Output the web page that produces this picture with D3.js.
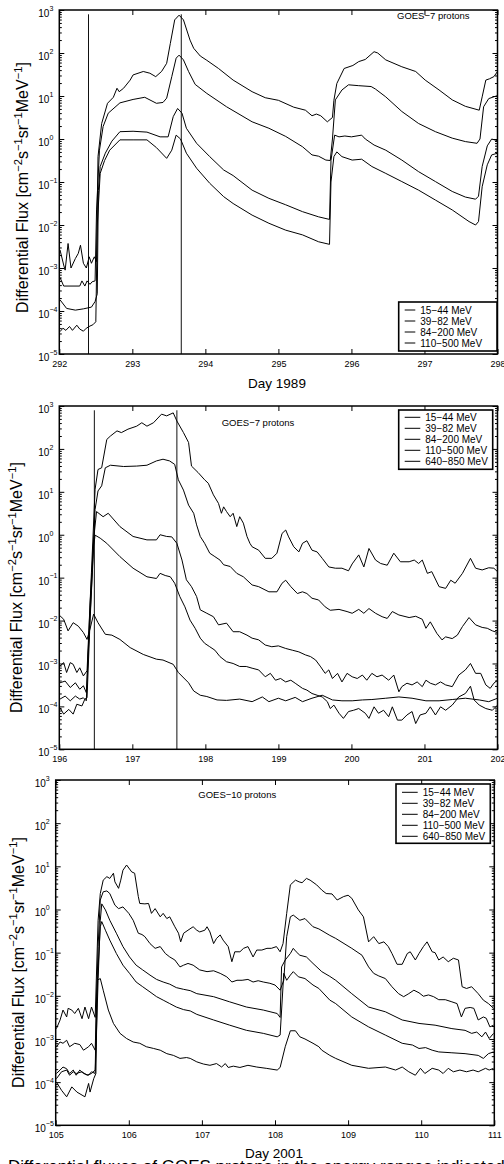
<!DOCTYPE html>
<html><head><meta charset="utf-8">
<script src="https://cdn.jsdelivr.net/npm/d3@7"></script>
<style>
body{margin:0;background:#fff}
svg{display:block}
text{font-family:"Liberation Sans",Arial,Helvetica,sans-serif;fill:#000}
</style></head><body>
<svg id="c" width="504" height="1164"></svg>
<script>
// ---------------- DATA ----------------
const labels4 = ["15\u221244 MeV","39\u221282 MeV","84\u2212200 MeV","110\u2212500 MeV"];
const labels5 = ["15\u221244 MeV","39\u221282 MeV","84\u2212200 MeV","110\u2212500 MeV","640\u2212850 MeV"];
const p1Ticks = [292,293,294,295,296,297,298];
const p2Ticks = [196,197,198,199,200,201,202];
const p3Ticks = [105,106,107,108,109,110,111];
const yExps = [-5,-4,-3,-2,-1,0,1,2,3];
const p1Events = [292.4, 293.67];
const p2Events = [196.48, 197.61];
const eventTopExp = 2.9;

// series: [day, log10 flux]
const p1_15_44 = [[292.01,-2.58],[292.06,-2.93],[292.08,-3.05],[292.12,-2.43],[292.16,-3.0],[292.22,-2.78],[292.26,-2.66],[292.29,-2.47],[292.33,-2.89],[292.37,-3.0],[292.41,-2.74],[292.44,-2.89],[292.48,-2.74],[292.51,-2.85],[292.53,-0.41],[292.58,0.36],[292.66,0.83],[292.74,0.97],[292.79,1.18],[292.82,1.1],[292.88,1.18],[292.97,1.37],[293.01,1.49],[293.15,1.57],[293.24,1.53],[293.32,1.45],[293.4,1.57],[293.47,1.76],[293.52,2.22],[293.58,2.77],[293.64,2.88],[293.7,2.77],[293.79,2.3],[293.84,2.11],[293.93,1.93],[294.02,1.83],[294.18,1.64],[294.38,1.37],[294.64,1.1],[294.82,0.96],[295.0,0.9],[295.21,0.74],[295.37,0.67],[295.46,0.54],[295.52,0.58],[295.58,0.54],[295.67,0.4],[295.74,0.5],[295.76,0.9],[295.8,1.29],[295.9,1.64],[296.02,1.71],[296.1,1.8],[296.19,1.85],[296.31,2.03],[296.36,2.0],[296.47,1.84],[296.69,1.68],[296.88,1.57],[297.01,1.37],[297.2,1.14],[297.38,0.91],[297.56,0.76],[297.75,0.67],[297.79,0.98],[297.84,1.37],[297.89,1.4],[297.95,1.45],[298.0,1.57]];
const p1_39_82 = [[292.01,-3.22],[292.06,-3.42],[292.28,-3.42],[292.31,-3.3],[292.35,-3.42],[292.38,-3.3],[292.42,-3.38],[292.45,-3.32],[292.49,-3.3],[292.51,-1.65],[292.55,-0.26],[292.6,0.29],[292.67,0.6],[292.83,0.84],[293.01,0.92],[293.17,0.97],[293.33,0.83],[293.42,0.85],[293.47,0.95],[293.54,1.45],[293.6,1.88],[293.64,1.95],[293.7,1.84],[293.77,1.57],[293.86,1.27],[294.02,1.06],[294.29,0.75],[294.64,0.4],[294.87,0.25],[295.1,0.06],[295.33,-0.18],[295.46,-0.37],[295.55,-0.4],[295.65,-0.49],[295.71,-0.5],[295.74,0.0],[295.78,0.91],[295.87,1.14],[295.96,1.26],[296.1,1.24],[296.27,1.22],[296.33,1.16],[296.47,0.98],[296.69,0.64],[296.92,0.36],[297.15,0.17],[297.38,0.02],[297.56,-0.06],[297.72,-0.1],[297.76,0.0],[297.81,0.75],[297.88,0.94],[298.0,1.01]];
const p1_84_200 = [[292.01,-3.74],[292.1,-3.94],[292.22,-3.98],[292.33,-3.95],[292.44,-3.91],[292.49,-3.78],[292.52,-3.6],[292.535,-1.2],[292.56,-0.64],[292.63,-0.33],[292.72,-0.05],[292.83,0.17],[293.01,0.18],[293.2,0.16],[293.38,0.05],[293.49,0.05],[293.56,0.52],[293.62,0.71],[293.68,0.6],[293.74,0.25],[293.88,-0.1],[294.06,-0.41],[294.25,-0.72],[294.38,-0.85],[294.64,-1.19],[294.87,-1.38],[295.1,-1.53],[295.33,-1.69],[295.55,-1.81],[295.7,-1.87],[295.72,-0.5],[295.77,0.09],[295.83,0.05],[295.91,0.07],[296.0,0.05],[296.14,0.09],[296.19,0.0],[296.31,-0.14],[296.47,-0.26],[296.69,-0.49],[296.92,-0.76],[297.15,-0.99],[297.38,-1.22],[297.56,-1.35],[297.7,-1.4],[297.74,-1.33],[297.79,-0.64],[297.86,-0.16],[297.92,0.0],[298.0,-0.04]];
const p1_110_500 = [[292.01,-4.48],[292.05,-4.4],[292.09,-4.45],[292.14,-4.36],[292.18,-4.45],[292.24,-4.33],[292.28,-4.42],[292.33,-4.47],[292.37,-4.4],[292.42,-4.35],[292.46,-4.32],[292.5,-4.25],[292.52,-2.0],[292.56,-0.8],[292.62,-0.5],[292.69,-0.26],[292.83,-0.02],[293.01,-0.02],[293.2,-0.02],[293.33,-0.2],[293.47,-0.45],[293.54,-0.26],[293.6,0.09],[293.66,0.0],[293.74,-0.33],[293.88,-0.68],[294.06,-1.03],[294.25,-1.34],[294.38,-1.5],[294.64,-1.77],[294.87,-1.96],[295.1,-2.12],[295.33,-2.23],[295.55,-2.39],[295.7,-2.45],[295.72,-1.0],[295.76,-0.41],[295.8,-0.3],[295.87,-0.41],[296.01,-0.49],[296.14,-0.47],[296.28,-0.64],[296.47,-0.8],[296.69,-0.99],[296.92,-1.19],[297.15,-1.42],[297.38,-1.65],[297.61,-1.92],[297.7,-2.0],[297.74,-1.92],[297.79,-1.11],[297.86,-0.6],[297.92,-0.37],[298.0,-0.33]];

const p2_15_44 = [[196.01,-3.06],[196.06,-2.98],[196.1,-3.21],[196.15,-2.98],[196.19,-3.02],[196.24,-3.21],[196.28,-3.1],[196.33,-3.29],[196.38,-3.17],[196.44,-0.88],[196.49,1.06],[196.53,1.52],[196.58,1.56],[196.65,2.22],[196.7,2.3],[196.79,2.42],[196.85,2.38],[196.94,2.46],[197.06,2.53],[197.13,2.61],[197.2,2.53],[197.29,2.61],[197.4,2.81],[197.47,2.77],[197.56,2.84],[197.61,2.65],[197.7,2.38],[197.77,2.15],[197.81,1.6],[197.9,1.45],[197.99,1.28],[198.04,1.2],[198.11,0.93],[198.18,0.73],[198.22,0.5],[198.25,0.65],[198.29,0.54],[198.34,0.42],[198.38,0.5],[198.43,0.19],[198.47,0.42],[198.52,0.27],[198.57,-0.04],[198.61,-0.2],[198.64,-0.28],[198.73,-0.36],[198.82,-0.55],[198.91,-0.55],[198.98,-0.43],[199.05,0.03],[199.1,0.11],[199.14,-0.05],[199.21,-0.28],[199.28,-0.4],[199.33,-0.2],[199.39,-0.14],[199.46,-0.36],[199.53,-0.4],[199.6,-0.55],[199.69,-0.75],[199.78,-0.78],[199.87,-0.78],[199.96,-0.84],[200.01,-0.68],[200.1,-0.47],[200.17,-0.75],[200.24,-0.32],[200.33,-0.59],[200.4,-0.67],[200.49,-0.71],[200.58,-0.43],[200.67,-0.63],[200.79,-0.63],[200.86,-0.59],[200.92,-0.67],[200.97,-0.59],[201.04,-0.9],[201.1,-0.86],[201.2,-1.21],[201.29,-1.25],[201.36,-1.06],[201.42,-1.13],[201.52,-0.9],[201.63,-0.55],[201.7,-0.78],[201.79,-0.82],[201.88,-0.77],[201.95,-0.78],[202.0,-0.86]];
const p2_39_82 = [[196.01,-3.45],[196.08,-3.41],[196.15,-3.56],[196.22,-3.45],[196.28,-3.6],[196.33,-3.52],[196.37,-3.68],[196.44,-1.27],[196.49,0.59],[196.53,1.02],[196.58,1.14],[196.63,1.56],[196.7,1.62],[196.88,1.59],[197.06,1.6],[197.2,1.62],[197.33,1.72],[197.42,1.76],[197.51,1.72],[197.58,1.64],[197.63,1.28],[197.7,1.04],[197.77,0.69],[197.84,0.5],[197.88,0.23],[197.93,-0.04],[197.99,-0.2],[198.06,-0.43],[198.13,-0.51],[198.2,-0.59],[198.25,-0.7],[198.34,-0.74],[198.43,-0.9],[198.52,-0.98],[198.64,-1.17],[198.73,-1.21],[198.87,-1.33],[198.98,-1.33],[199.05,-1.13],[199.1,-1.06],[199.17,-1.21],[199.26,-1.37],[199.33,-1.33],[199.39,-1.37],[199.46,-1.48],[199.55,-1.52],[199.64,-1.68],[199.71,-1.76],[199.83,-1.74],[199.94,-1.79],[200.01,-1.83],[200.1,-1.74],[200.17,-1.83],[200.24,-1.72],[200.33,-1.83],[200.42,-1.91],[200.49,-1.95],[200.56,-1.79],[200.65,-1.87],[200.79,-1.93],[200.88,-1.9],[200.97,-1.97],[201.02,-2.18],[201.08,-2.03],[201.17,-2.3],[201.24,-2.45],[201.29,-2.38],[201.38,-2.42],[201.45,-2.34],[201.52,-2.14],[201.61,-1.93],[201.7,-2.1],[201.79,-2.16],[201.86,-2.18],[201.93,-2.24],[202.0,-2.28]];
const p2_84_200 = [[196.01,-3.83],[196.08,-3.76],[196.15,-3.87],[196.22,-3.76],[196.28,-3.83],[196.33,-3.8],[196.37,-3.87],[196.42,-1.66],[196.47,-0.11],[196.51,0.54],[196.6,0.42],[196.67,0.5],[196.83,0.19],[197.01,-0.04],[197.2,-0.12],[197.33,-0.12],[197.38,0.0],[197.47,-0.04],[197.54,-0.05],[197.61,-0.2],[197.68,-0.59],[197.74,-1.05],[197.81,-1.21],[197.88,-1.44],[197.93,-1.75],[198.02,-1.83],[198.11,-1.91],[198.18,-2.1],[198.29,-2.06],[198.38,-2.26],[198.47,-2.26],[198.57,-2.34],[198.64,-2.41],[198.73,-2.45],[198.82,-2.57],[198.91,-2.61],[199.0,-2.59],[199.1,-2.65],[199.19,-2.69],[199.28,-2.73],[199.37,-2.8],[199.44,-2.84],[199.51,-2.92],[199.58,-3.08],[199.64,-3.23],[199.69,-3.15],[199.74,-3.35],[199.81,-3.23],[199.87,-3.43],[199.94,-3.23],[200.01,-3.31],[200.08,-3.35],[200.15,-3.27],[200.21,-3.39],[200.28,-3.23],[200.35,-3.31],[200.42,-3.27],[200.51,-3.39],[200.58,-3.27],[200.65,-3.66],[200.69,-3.54],[200.76,-3.46],[200.83,-3.5],[200.9,-3.43],[200.97,-3.54],[201.02,-3.39],[201.08,-3.46],[201.15,-3.5],[201.22,-3.43],[201.29,-3.5],[201.38,-3.54],[201.47,-3.27],[201.56,-3.15],[201.63,-3.0],[201.7,-3.23],[201.77,-3.23],[201.84,-3.5],[201.9,-3.58],[201.95,-3.46],[202.0,-3.39]];
const p2_110_500 = [[196.01,-4.03],[196.06,-4.18],[196.13,-4.07],[196.19,-4.18],[196.24,-3.95],[196.31,-3.99],[196.35,-3.83],[196.38,-3.8],[196.42,-2.05],[196.47,-0.26],[196.49,-0.01],[196.56,-0.08],[196.65,-0.2],[196.83,-0.51],[197.01,-0.78],[197.2,-0.98],[197.33,-1.02],[197.38,-0.9],[197.45,-0.95],[197.52,-0.98],[197.58,-1.13],[197.65,-1.44],[197.72,-1.68],[197.79,-1.99],[197.86,-2.18],[197.93,-2.41],[197.99,-2.53],[198.06,-2.61],[198.13,-2.69],[198.2,-2.84],[198.29,-2.96],[198.38,-3.0],[198.47,-3.07],[198.56,-3.07],[198.64,-3.11],[198.73,-3.15],[198.82,-3.31],[198.89,-3.23],[198.96,-3.39],[199.03,-3.35],[199.1,-3.43],[199.17,-3.39],[199.23,-3.46],[199.33,-3.58],[199.39,-3.62],[199.46,-3.7],[199.53,-3.74],[199.6,-3.78],[199.67,-3.89],[199.71,-4.05],[199.76,-3.97],[199.83,-4.16],[199.89,-4.28],[199.96,-4.12],[200.03,-4.09],[200.1,-4.05],[200.19,-4.16],[200.24,-4.28],[200.31,-4.01],[200.37,-4.16],[200.44,-4.09],[200.51,-4.24],[200.56,-4.01],[200.63,-4.32],[200.69,-4.32],[200.76,-4.2],[200.83,-4.12],[200.88,-4.4],[200.94,-4.2],[201.02,-4.16],[201.08,-4.01],[201.15,-4.2],[201.22,-4.01],[201.29,-4.09],[201.38,-3.97],[201.47,-3.78],[201.56,-3.7],[201.63,-3.53],[201.68,-3.85],[201.75,-3.97],[201.84,-4.05],[201.93,-4.09],[202.0,-3.97]];
const p2_640_850 = [[196.01,-1.89],[196.06,-1.97],[196.12,-2.24],[196.19,-2.05],[196.26,-2.13],[196.33,-2.28],[196.38,-2.44],[196.42,-2.2],[196.47,-1.85],[196.53,-2.05],[196.63,-2.32],[196.72,-2.34],[196.83,-2.44],[196.97,-2.63],[197.15,-2.79],[197.33,-2.9],[197.42,-2.92],[197.56,-3.02],[197.63,-3.21],[197.77,-3.45],[197.84,-3.64],[197.93,-3.74],[198.02,-3.77],[198.16,-3.85],[198.29,-3.86],[198.47,-3.83],[198.64,-3.89],[198.78,-3.78],[198.87,-3.89],[199.0,-3.81],[199.1,-3.87],[199.23,-3.79],[199.33,-3.89],[199.46,-3.81],[199.6,-3.74],[199.74,-3.85],[199.87,-3.87],[200.01,-3.87],[200.15,-3.85],[200.28,-3.84],[200.47,-3.81],[200.65,-3.78],[200.83,-3.81],[201.02,-3.87],[201.2,-3.87],[201.38,-3.84],[201.56,-3.81],[201.75,-3.85],[201.88,-3.89],[202.0,-3.81]];

const p3_15_44 = [[105.01,-2.76],[105.06,-2.56],[105.1,-2.33],[105.15,-2.49],[105.17,-2.29],[105.22,-2.33],[105.26,-2.41],[105.31,-2.29],[105.36,-2.53],[105.4,-2.26],[105.45,-2.53],[105.49,-2.26],[105.54,-2.5],[105.58,-0.25],[105.61,0.37],[105.65,0.68],[105.7,0.76],[105.74,0.72],[105.79,0.84],[105.81,0.64],[105.86,0.49],[105.89,0.68],[105.92,0.91],[105.97,1.03],[106.04,0.87],[106.08,0.84],[106.13,0.3],[106.15,0.14],[106.22,0.13],[106.27,0.14],[106.31,-0.09],[106.36,0.02],[106.43,-0.17],[106.47,-0.09],[106.52,-0.21],[106.56,-0.17],[106.63,-0.4],[106.68,-0.55],[106.71,-0.75],[106.75,-0.55],[106.81,-0.48],[106.88,-0.4],[106.93,-0.48],[106.97,-0.52],[107.04,-0.48],[107.07,-0.4],[107.11,-0.52],[107.16,-0.79],[107.2,-0.67],[107.25,-0.59],[107.29,-0.71],[107.36,-0.86],[107.41,-1.21],[107.45,-0.98],[107.52,-0.98],[107.57,-0.9],[107.63,-0.86],[107.7,-1.1],[107.75,-0.94],[107.82,-0.94],[107.89,-0.9],[107.95,-0.9],[108.02,-0.86],[108.07,-0.98],[108.11,-0.79],[108.16,-0.09],[108.21,0.57],[108.28,0.68],[108.33,0.64],[108.37,0.62],[108.43,0.72],[108.48,0.68],[108.57,0.57],[108.64,0.45],[108.7,0.37],[108.78,0.36],[108.85,0.22],[108.94,0.3],[109.0,0.33],[109.05,0.26],[109.14,-0.01],[109.21,-0.17],[109.28,-0.75],[109.35,-0.63],[109.42,-0.79],[109.49,-0.75],[109.55,-0.86],[109.6,-1.02],[109.67,-1.27],[109.74,-1.27],[109.81,-1.02],[109.85,-0.98],[109.92,-1.17],[109.97,-1.02],[110.03,-0.86],[110.08,-0.75],[110.15,-0.98],[110.19,-1.0],[110.24,-1.17],[110.3,-1.1],[110.37,-1.21],[110.44,-1.13],[110.51,-1.17],[110.56,-1.79],[110.62,-1.83],[110.69,-1.79],[110.78,-1.95],[110.85,-2.1],[110.92,-2.18],[110.99,-2.29]];
const p3_39_82 = [[105.01,-3.18],[105.06,-3.07],[105.1,-3.1],[105.15,-3.03],[105.19,-3.18],[105.26,-3.1],[105.33,-3.13],[105.38,-3.26],[105.45,-3.18],[105.49,-3.1],[105.54,-3.26],[105.58,-0.86],[105.61,0.22],[105.65,0.41],[105.7,0.43],[105.74,0.37],[105.81,0.1],[105.86,0.02],[105.92,0.06],[106.0,-0.09],[106.06,-0.25],[106.13,-0.55],[106.18,-0.58],[106.22,-0.63],[106.29,-0.79],[106.36,-0.9],[106.43,-0.86],[106.5,-1.02],[106.56,-1.1],[106.63,-1.17],[106.7,-1.33],[106.75,-1.29],[106.81,-1.25],[106.88,-1.29],[106.97,-1.4],[107.07,-1.44],[107.16,-1.42],[107.25,-1.48],[107.34,-1.56],[107.41,-1.68],[107.48,-1.64],[107.55,-1.64],[107.63,-1.62],[107.7,-1.68],[107.77,-1.65],[107.84,-1.68],[107.93,-1.71],[108.0,-1.75],[108.07,-1.87],[108.12,-1.64],[108.16,-0.63],[108.21,-0.17],[108.25,-0.13],[108.34,-0.25],[108.41,-0.21],[108.52,-0.4],[108.6,-0.45],[108.75,-0.6],[108.83,-0.67],[109.05,-0.9],[109.19,-1.06],[109.28,-1.33],[109.35,-1.48],[109.42,-1.54],[109.51,-1.6],[109.6,-1.79],[109.69,-1.95],[109.76,-2.02],[109.83,-1.95],[109.9,-1.87],[109.97,-1.93],[110.03,-2.01],[110.1,-1.98],[110.17,-2.02],[110.24,-2.09],[110.33,-2.09],[110.42,-2.14],[110.49,-2.18],[110.55,-2.49],[110.6,-2.29],[110.67,-2.27],[110.72,-2.29],[110.78,-2.56],[110.85,-2.49],[110.89,-2.52],[110.94,-2.72],[110.99,-2.68]];
const p3_84_200 = [[105.01,-3.8],[105.06,-3.72],[105.1,-3.65],[105.15,-3.69],[105.19,-3.8],[105.24,-3.72],[105.28,-3.84],[105.33,-3.72],[105.38,-3.8],[105.45,-3.84],[105.49,-3.76],[105.54,-3.8],[105.58,-1.64],[105.61,-0.25],[105.63,0.13],[105.68,-0.01],[105.74,-0.25],[105.83,-0.55],[105.92,-0.86],[106.01,-1.1],[106.1,-1.29],[106.19,-1.4],[106.29,-1.52],[106.38,-1.62],[106.47,-1.68],[106.56,-1.73],[106.65,-1.81],[106.75,-1.85],[106.84,-1.88],[106.93,-1.95],[107.16,-2.02],[107.38,-2.14],[107.61,-2.26],[107.84,-2.33],[108.03,-2.41],[108.07,-2.5],[108.09,-1.33],[108.14,-1.17],[108.21,-1.02],[108.25,-0.9],[108.29,-0.98],[108.34,-1.06],[108.43,-1.1],[108.52,-1.25],[108.64,-1.44],[108.75,-1.55],[108.83,-1.64],[109.05,-1.95],[109.28,-2.26],[109.51,-2.37],[109.74,-2.56],[109.97,-2.64],[110.19,-2.68],[110.42,-2.76],[110.6,-2.8],[110.69,-2.87],[110.76,-2.84],[110.83,-2.95],[110.88,-2.84],[110.93,-2.99],[110.99,-2.87]];
const p3_110_500 = [[105.01,-3.92],[105.08,-3.76],[105.15,-3.72],[105.19,-3.84],[105.24,-3.76],[105.28,-3.8],[105.36,-3.76],[105.43,-3.84],[105.49,-3.8],[105.54,-3.72],[105.56,-2.02],[105.61,-0.4],[105.63,-0.28],[105.68,-0.48],[105.74,-0.71],[105.83,-1.02],[105.92,-1.29],[106.01,-1.48],[106.1,-1.68],[106.19,-1.79],[106.29,-1.91],[106.38,-2.02],[106.47,-2.1],[106.56,-2.18],[106.65,-2.26],[106.75,-2.32],[106.84,-2.35],[106.93,-2.43],[107.16,-2.56],[107.38,-2.68],[107.61,-2.8],[107.84,-2.87],[108.03,-2.95],[108.07,-2.91],[108.12,-1.48],[108.16,-1.64],[108.21,-1.52],[108.25,-1.44],[108.32,-1.56],[108.41,-1.6],[108.52,-1.75],[108.6,-1.83],[108.75,-2.1],[108.83,-2.18],[109.05,-2.49],[109.28,-2.72],[109.51,-2.91],[109.74,-3.1],[109.88,-3.14],[109.97,-3.22],[110.06,-3.2],[110.15,-3.26],[110.24,-3.3],[110.42,-3.32],[110.6,-3.34],[110.78,-3.38],[110.85,-3.45],[110.92,-3.34],[110.99,-3.3]];
const p3_640_850 = [[105.01,-4.0],[105.08,-4.19],[105.15,-4.34],[105.22,-4.11],[105.29,-4.23],[105.36,-4.3],[105.4,-4.34],[105.45,-4.03],[105.47,-4.23],[105.52,-3.92],[105.55,-3.8],[105.57,-1.64],[105.61,-1.6],[105.65,-1.87],[105.72,-2.33],[105.79,-2.64],[105.88,-2.87],[105.97,-2.99],[106.06,-3.07],[106.15,-3.1],[106.24,-3.18],[106.34,-3.22],[106.43,-3.26],[106.52,-3.34],[106.61,-3.38],[106.7,-3.45],[106.79,-3.43],[106.84,-3.45],[106.93,-3.53],[107.02,-3.58],[107.11,-3.61],[107.2,-3.57],[107.27,-3.65],[107.32,-3.57],[107.36,-3.66],[107.43,-3.63],[107.52,-3.66],[107.63,-3.61],[107.75,-3.65],[107.88,-3.68],[108.03,-3.72],[108.07,-3.66],[108.14,-3.18],[108.21,-2.81],[108.28,-2.81],[108.34,-2.95],[108.41,-3.0],[108.52,-3.1],[108.6,-3.18],[108.64,-3.26],[108.75,-3.38],[108.83,-3.45],[109.05,-3.61],[109.28,-3.68],[109.51,-3.65],[109.65,-3.72],[109.74,-3.65],[109.83,-3.76],[109.92,-3.84],[109.99,-3.68],[110.05,-3.8],[110.15,-3.68],[110.24,-3.72],[110.3,-3.8],[110.37,-3.68],[110.44,-3.76],[110.53,-3.72],[110.62,-3.76],[110.71,-3.72],[110.78,-3.76],[110.88,-3.68],[110.93,-3.72],[110.99,-3.68]];

// ---------------- LAYOUT ----------------
const FONT = '"Liberation Sans",Arial,Helvetica,sans-serif';
const panels = [
  {left:59.3,right:497.5,top:10,bottom:354,ticks:p1Ticks,
   series:[p1_15_44,p1_39_82,p1_84_200,p1_110_500],labels:labels4,events:p1Events,
   title:"GOES\u22127 protons",titleX:397,titleY:18.5,
   legend:{x:398.7,y:302,w:98.3,h:49,row0:310,lineLen:10.6},
   xlabel:"Day 1989",xlabelX:277,xlabelY:387.5,ylabX:21.7,ylabY:187.5},
  {left:59.3,right:497.5,top:406,bottom:749.3,ticks:p2Ticks,
   series:[p2_15_44,p2_39_82,p2_84_200,p2_110_500,p2_640_850],labels:labels5,events:p2Events,
   title:"GOES\u22127 protons",titleX:221.7,titleY:426,
   legend:{x:398.7,y:410,w:94,h:59.3,row0:417.3,lineLen:15.6},
   xlabel:null,ylabX:15.7,ylabY:587.5},
  {left:55.7,right:494.3,top:780,bottom:1125.3,ticks:p3Ticks,
   series:[p3_15_44,p3_39_82,p3_84_200,p3_110_500,p3_640_850],labels:labels5,events:[],
   title:"GOES\u221210 protons",titleX:198.3,titleY:798,
   legend:{x:396,y:784,w:94.3,h:59.3,row0:792.3,lineLen:15.7},
   xlabel:"Day 2001",xlabelX:274,xlabelY:1157.5,ylabX:17,ylabY:962.5}
];

const svg = d3.select("#c");

function drawPanel(p, idx) {
  const x = d3.scaleLinear().domain([p.ticks[0], p.ticks[p.ticks.length-1]]).range([p.left, p.right]);
  const y = d3.scaleLog().domain([1e-5, 1e3]).range([p.bottom, p.top]);
  const g = svg.append("g");
  const cid = "clip" + idx;
  g.append("clipPath").attr("id", cid).append("rect")
    .attr("x", p.left).attr("y", p.top).attr("width", p.right - p.left).attr("height", p.bottom - p.top);
  const plot = g.append("g").attr("clip-path", `url(#${cid})`);

  // event markers
  plot.selectAll("line.ev").data(p.events).join("line").attr("class","ev")
    .attr("x1", d => x(d)).attr("x2", d => x(d))
    .attr("y1", y(Math.pow(10, eventTopExp))).attr("y2", y(1e-5))
    .attr("stroke", "#111").attr("stroke-width", 1);

  const line = d3.line().x(d => x(d[0])).y(d => y(Math.pow(10, d[1])));
  plot.selectAll("path.s").data(p.series).join("path").attr("class","s")
    .attr("d", line).attr("fill","none").attr("stroke","#000").attr("stroke-width",1)
    .attr("stroke-linejoin","round");

  // axes
  const major = yExps.map(e => Math.pow(10, e));
  const minor = [];
  for (let e = -5; e < 3; e++) for (let m = 2; m <= 9; m++) minor.push(m * Math.pow(10, e));
  const clean = sel => { sel.select(".domain").remove(); sel.selectAll("line").attr("stroke","#000"); sel.attr("font-family", FONT); };

  g.append("g").attr("transform", `translate(0,${p.bottom})`)
    .call(d3.axisBottom(x).tickValues(p.ticks).tickSizeInner(-5).tickSizeOuter(0).tickPadding(6.6).tickFormat(d3.format("d")))
    .call(clean).call(s => s.selectAll("text").attr("font-size", 9));
  g.append("g").attr("transform", `translate(0,${p.top})`)
    .call(d3.axisTop(x).tickValues(p.ticks).tickSizeInner(-5).tickSizeOuter(0).tickFormat(""))
    .call(clean);
  [[d3.axisLeft, p.left], [d3.axisRight, p.right]].forEach(([ax, pos]) => {
    g.append("g").attr("transform", `translate(${pos},0)`)
      .call(ax(y).tickValues(major).tickSizeInner(-5).tickSizeOuter(0).tickFormat(""))
      .call(clean);
    g.append("g").attr("transform", `translate(${pos},0)`)
      .call(ax(y).tickValues(minor).tickSizeInner(-2.5).tickSizeOuter(0).tickFormat(""))
      .call(clean);
  });

  // y tick labels with superscripts
  const yl = g.append("g").attr("font-family", FONT);
  yExps.forEach(e => {
    const t = yl.append("text").attr("x", p.left - 21).attr("y", y(Math.pow(10, e)) + 7).attr("font-size", 10);
    t.append("tspan").text("10");
    t.append("tspan").attr("dy", -6.2).attr("font-size", 7).text(e < 0 ? "\u2212" + (-e) : String(e));
  });

  // frame
  g.append("rect").attr("x", p.left).attr("y", p.top)
    .attr("width", p.right - p.left).attr("height", p.bottom - p.top)
    .attr("fill","none").attr("stroke","#000").attr("stroke-width",1.5);

  // title
  g.append("text").attr("x", p.titleX).attr("y", p.titleY).attr("font-size", 9.5).text(p.title);

  // legend
  const L = p.legend;
  const lg = g.append("g");
  lg.append("rect").attr("x", L.x).attr("y", L.y).attr("width", L.w).attr("height", L.h)
    .attr("fill","#fff").attr("stroke","#000").attr("stroke-width",1.6);
  p.labels.forEach((lab, i) => {
    const cy = L.row0 + i * 11;
    lg.append("line").attr("x1", L.x + 6).attr("x2", L.x + 6 + L.lineLen).attr("y1", cy).attr("y2", cy)
      .attr("stroke","#000").attr("stroke-width",1);
    lg.append("text").attr("x", L.x + 11 + L.lineLen).attr("y", cy + 3.6).attr("font-size", 10).text(lab);
  });

  if (p.xlabel) {
    g.append("text").attr("x", p.xlabelX).attr("y", p.xlabelY).attr("text-anchor","middle")
      .attr("font-size", 13.5).text(p.xlabel);
  }

  // y label
  const yg = g.append("g");
  const yt = yg.append("text").attr("font-size", 15).attr("x", 0).attr("y", 0);
  const parts = [["Differential Flux [cm",0],["\u22122",1],["s",0],["\u22121",1],["sr",0],["\u22121",1],["MeV",0],["\u22121",1],["]",0]];
  let up = false;
  parts.forEach(([s, sup]) => {
    const ts = yt.append("tspan").text(s);
    if (sup) { ts.attr("dy", -6).attr("font-size", 10.5); up = true; }
    else if (up) { ts.attr("dy", 6); up = false; }
  });
  let bb = yt.node().getBBox();
  const scale = 251 / bb.width;
  yt.attr("font-size", 15 * scale);
  yt.selectAll("tspan").each(function() {
    const s = d3.select(this);
    if (s.attr("font-size")) s.attr("font-size", 10.5 * scale);
    if (s.attr("dy")) s.attr("dy", +s.attr("dy") * scale);
  });
  bb = yt.node().getBBox();
  yg.attr("transform", `translate(${p.ylabX},${p.ylabY}) rotate(-90) translate(${-(bb.x + bb.width/2)},${-(bb.y + bb.height/2)})`);
}

panels.forEach(drawPanel);

// caption at bottom, cut by the page edge as in the reference
svg.append("text").attr("x", 8).attr("y", 1172)
  .attr("font-family", '"Liberation Serif","Times New Roman",serif').attr("font-size", 17)
  .text("Differential fluxes of GOES protons in the energy ranges indicated");
</script></body></html>
